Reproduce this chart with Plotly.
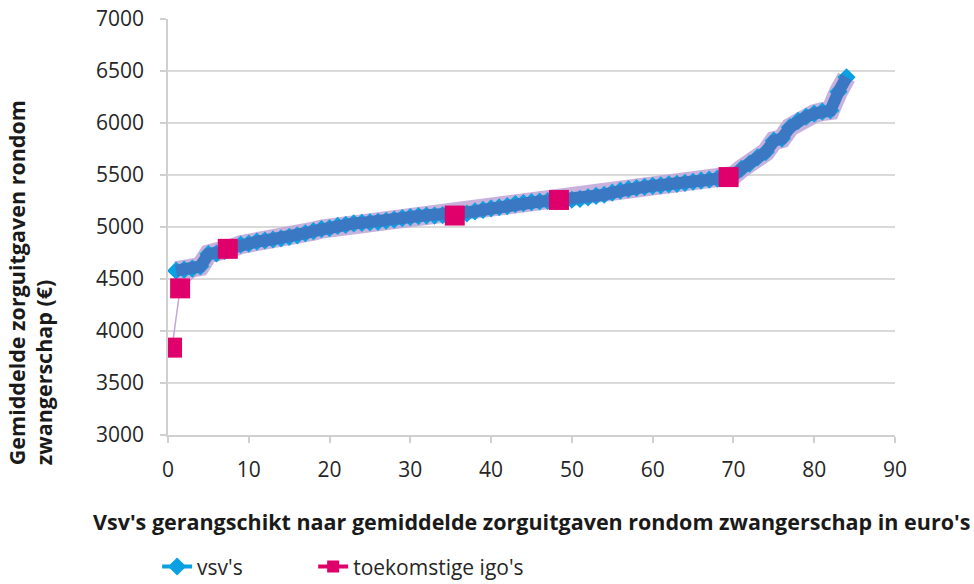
import plotly.graph_objects as go

# Rank of each vsv (1 = lowest average spending)
vsv_rank = list(range(1, 85))
# Average care spending around pregnancy per vsv (euro)
vsv_spending = [
    4580, 4590, 4600, 4620, 4740, 4745, 4770, 4800, 4830, 4840,
    4860, 4870, 4880, 4890, 4905, 4920, 4940, 4960, 4980, 4990,
    5010, 5020, 5035, 5040, 5045, 5050, 5060, 5070, 5085, 5095,
    5105, 5110, 5110, 5115, 5115, 5120, 5130, 5150, 5165, 5180,
    5190, 5200, 5220, 5230, 5240, 5245, 5250, 5255, 5258, 5262,
    5270, 5285, 5300, 5310, 5330, 5350, 5365, 5375, 5385, 5395,
    5400, 5410, 5415, 5425, 5435, 5445, 5455, 5465, 5475, 5495,
    5560, 5610, 5670, 5720, 5830, 5850, 5960, 6020, 6060, 6090,
    6110, 6120, 6300, 6440,
]

# Future igo's placed on the same ranking
igo_rank = [0.5, 1.5, 7.4, 35.5, 48.4, 69.4]
igo_spending = [3840, 4410, 4790, 5110, 5260, 5480]

x_ticks = [0, 10, 20, 30, 40, 50, 60, 70, 80, 90]
y_ticks = [3000, 3500, 4000, 4500, 5000, 5500, 6000, 6500, 7000]

LIGHT_BLUE = "#0aa0e2"
DARK_BLUE = "#3b78c4"
PINK = "#e0006c"
LAVENDER = "rgba(190,163,214,0.85)"
FONT = "Open Sans"
TEXT = "#262626"
NBSP = "\u00a0"

fig = go.Figure()

# soft lavender glow behind the vsv line
fig.add_trace(go.Scatter(
    x=vsv_rank, y=vsv_spending, mode="lines",
    line=dict(color=LAVENDER, width=19),
    hoverinfo="skip", showlegend=False,
))
# thin lavender connector through the igo points
fig.add_trace(go.Scatter(
    x=igo_rank, y=igo_spending, mode="lines",
    line=dict(color="#c3a8d6", width=1.5),
    hoverinfo="skip", showlegend=False,
))
# vsv diamonds (padded label keeps the legend entries apart)
fig.add_trace(go.Scatter(
    x=vsv_rank, y=vsv_spending, mode="lines+markers", name="vsv's" + NBSP * 12,
    line=dict(color=LIGHT_BLUE, width=4),
    marker=dict(symbol="diamond", size=14, color=LIGHT_BLUE),
))
# darker line drawn over the diamonds
fig.add_trace(go.Scatter(
    x=vsv_rank, y=vsv_spending, mode="lines",
    line=dict(color=DARK_BLUE, width=12),
    hoverinfo="skip", showlegend=False,
))
# igo squares
fig.add_trace(go.Scatter(
    x=igo_rank, y=igo_spending, mode="markers",
    marker=dict(symbol="square", size=20, color=PINK),
    showlegend=False,
))
# legend entry for the igo series
fig.add_trace(go.Scatter(
    x=[None], y=[None], mode="lines+markers", name="toekomstige igo's",
    line=dict(color=PINK, width=4),
    marker=dict(symbol="square", size=12, color=PINK),
))

fig.update_layout(
    width=974, height=584,
    margin=dict(l=168, r=79, t=19, b=149, autoexpand=False),
    paper_bgcolor="white", plot_bgcolor="white",
    font=dict(family=FONT, size=20, color=TEXT),
    showlegend=True,
    legend=dict(
        orientation="h", x=-0.015, xanchor="left", y=-0.317, yanchor="middle",
        font=dict(family=FONT, size=21, color=TEXT),
        traceorder="normal",
    ),
    xaxis=dict(
        range=[0, 90], tickvals=x_ticks, ticktext=[str(v) for v in x_ticks],
        showgrid=False, zeroline=False,
        showline=True, linecolor="#d0d0d0", linewidth=1.5,
        ticks="outside", ticklen=6, tickcolor="#d0d0d0", tickwidth=1.5,
        ticklabelstandoff=9,
        tickfont=dict(family=FONT, size=21, color=TEXT),
    ),
    yaxis=dict(
        range=[3000, 7000], tickvals=y_ticks, ticktext=[str(v) for v in y_ticks],
        showgrid=True, gridcolor="#d9d9d9", gridwidth=1.5, zeroline=False,
        showline=True, linecolor="#d0d0d0", linewidth=1.5,
        ticks="outside", ticklen=6, tickcolor="#d0d0d0", tickwidth=1.5,
        ticklabelstandoff=12,
        tickfont=dict(family=FONT, size=21, color=TEXT),
    ),
    annotations=[
        dict(
            text="Vsv's gerangschikt naar gemiddelde zorguitgaven rondom zwangerschap in euro's",
            xref="paper", yref="paper", x=0.5, y=-0.209,
            xanchor="center", yanchor="middle", showarrow=False,
            font=dict(family=FONT, size=21.5, color="#1a1a1a", weight="bold"),
        ),
        dict(
            text="Gemiddelde zorguitgaven rondom<br>zwangerschap (€)",
            xref="paper", yref="paper", x=-0.19, y=0.367, align="left",
            xanchor="center", yanchor="middle", showarrow=False, textangle=-90,
            font=dict(family=FONT, size=21.5, color="#1a1a1a", weight="bold"),
        ),
    ],
)

fig.write_html("out.html")
